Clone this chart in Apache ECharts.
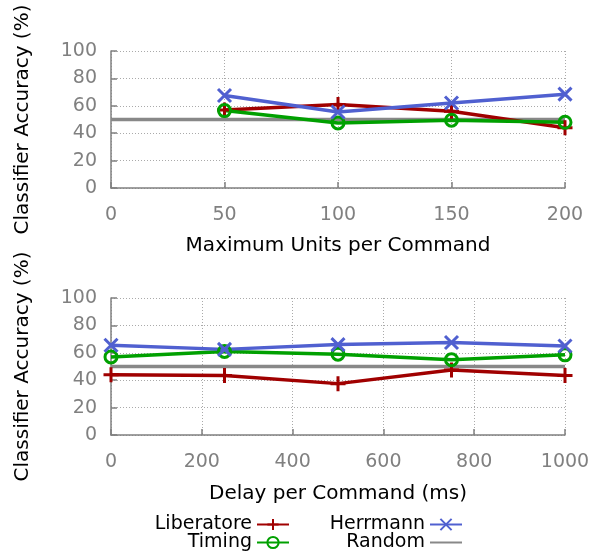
<!DOCTYPE html>
<html><head><meta charset="utf-8">
<script src="https://cdn.jsdelivr.net/npm/echarts@6/dist/echarts.min.js"></script>
<style>html,body{margin:0;padding:0;background:#fff}#c{width:596px;height:554px}</style>
</head><body><div id="c"></div>
<script>
const unitsX = [50, 100, 150, 200];
const unitsLiberatore = [57, 61, 56, 44];
const unitsTiming = [56.5, 47.5, 49.5, 48];
const unitsHerrmann = [67.5, 55.5, 62, 68.5];
const unitsRandomX = [0, 200];
const unitsRandom = [50, 50];

const delayX = [0, 250, 500, 750, 1000];
const delayLiberatore = [44, 43.5, 37.5, 47.5, 43.5];
const delayTiming = [57, 61, 59, 55, 58.5];
const delayHerrmann = [65.5, 62.5, 66, 67.5, 65];
const delayRandomX = [0, 1000];
const delayRandom = [50, 50];

const C = {lib:'#a00000', tim:'#00a000', her:'#5060d0', rnd:'#888888'};
const FONT = 'DejaVu Sans';
const plus = 'path://M5,0L5,10M0,5L10,5';
const cross = 'path://M0,0L10,10M0,10L10,0';
const circ = 'path://M10,5A5,5,0,1,1,0,5A5,5,0,1,1,10,5Z';

function pairs(xs, ys){ return xs.map((x,i)=>[x, ys[i]]); }

function lineSeries(name, xs, ys, idx, color, symbol, size){
  return {
    name, type:'line', xAxisIndex:idx, yAxisIndex:idx,
    data: pairs(xs, ys), symbol: symbol || 'none', symbolSize: size || 12,
    showSymbol: !!symbol,
    lineStyle:{color, width:3.5},
    itemStyle:{color: symbol===circ ? 'rgba(0,0,0,0)' : color, borderColor:color, borderWidth:3},
    emphasis:{disabled:true}, animation:false, z: name==='Random'?1:2
  };
}

const gridLine = {show:true, lineStyle:{color:'#aaaaaa', type:[1,2], width:1}};
const axisLabel = {color:'#808080', fontSize:19, fontFamily:FONT, margin:18, formatter:v=>String(v)};
const axisLine = {show:true, onZero:false, lineStyle:{color:'#808080', width:1.5}};
const axisTick = {show:true, inside:true, length:6, lineStyle:{color:'#808080', width:1.5}};
const nameStyle = {color:'#000', fontSize:20, fontFamily:FONT};

function yAxis(gi){
  return {type:'value', gridIndex:gi, min:0, max:100, interval:20,
    name:'Classifier Accuracy (%)', nameLocation:'middle', nameGap:78, nameTextStyle:nameStyle,
    axisLine, axisTick, axisLabel:Object.assign({}, axisLabel, {margin:14}), splitLine:gridLine};
}

const legendText = {color:'#000', fontSize:19, fontFamily:FONT};
function legend(item, right, top){
  return {data:[item], orient:'horizontal', align:'right', right, top, padding:0,
    itemWidth:32, itemHeight:14, textStyle:legendText, selectedMode:false};
}
const chart = echarts.init(document.getElementById('c'));
chart.setOption({
  backgroundColor:'#fff',
  grid:[
    {left:111, right:31, top:51, height:137},
    {left:111, right:31, top:298, height:137}
  ],
  xAxis:[
    {type:'value', gridIndex:0, min:0, max:200, interval:50,
     name:'Maximum Units per Command', nameLocation:'middle', nameGap:48, nameTextStyle:nameStyle,
     axisLine, axisTick, axisLabel, splitLine:gridLine},
    {type:'value', gridIndex:1, min:0, max:1000, interval:200,
     name:'Delay per Command (ms)', nameLocation:'middle', nameGap:49, nameTextStyle:nameStyle,
     axisLine, axisTick, axisLabel, splitLine:gridLine}
  ],
  yAxis:[yAxis(0), yAxis(1)],
  legend:[
    legend('Liberatore', 306, 515),
    legend('Timing', 306, 533),
    legend('Herrmann', 133, 515),
    legend({name:'Random', itemStyle:{opacity:0}}, 133, 533)
  ],
  series:[
    lineSeries('Random', unitsRandomX, unitsRandom, 0, C.rnd),
    lineSeries('Liberatore', unitsX, unitsLiberatore, 0, C.lib, plus, 15),
    lineSeries('Timing', unitsX, unitsTiming, 0, C.tim, circ, 12),
    lineSeries('Herrmann', unitsX, unitsHerrmann, 0, C.her, cross, 13),
    lineSeries('Random', delayRandomX, delayRandom, 1, C.rnd),
    lineSeries('Liberatore', delayX, delayLiberatore, 1, C.lib, plus, 15),
    lineSeries('Timing', delayX, delayTiming, 1, C.tim, circ, 12),
    lineSeries('Herrmann', delayX, delayHerrmann, 1, C.her, cross, 13)
  ]
});
</script></body></html>
